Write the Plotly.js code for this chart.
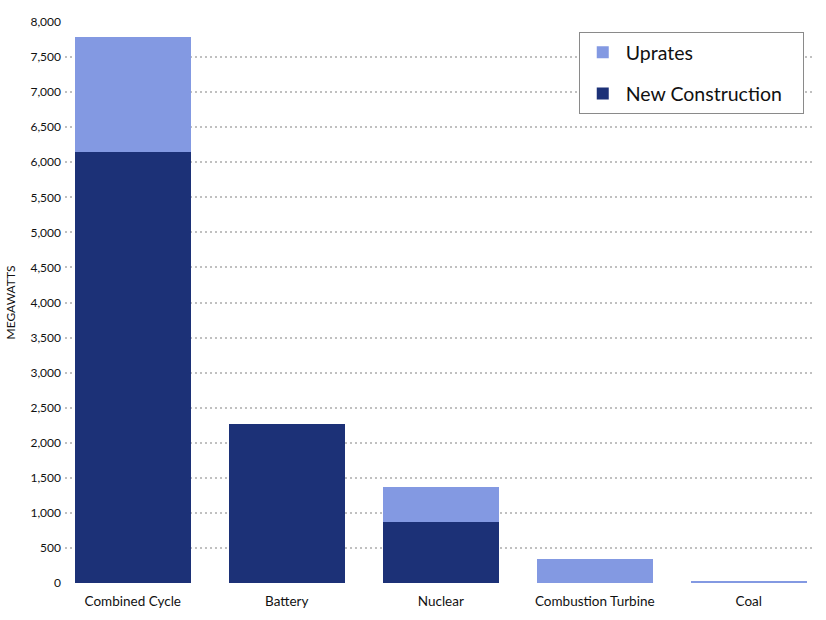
<!DOCTYPE html>
<html>
<head>
<meta charset="utf-8">
<script src="https://cdn.plot.ly/plotly-3.0.1.min.js"></script>
<style>html,body{margin:0;padding:0;background:#fff;}#chart{width:826px;height:620px;}</style>
</head>
<body>
<div id="chart"></div>
<script>
const categories = ["Combined Cycle", "Battery", "Nuclear", "Combustion Turbine", "Coal"];
const newConstruction = [6150, 2270, 870, 0, 0];
const uprates = [1630, 0, 500, 345, 22];
const yTickVals = [0,500,1000,1500,2000,2500,3000,3500,4000,4500,5000,5500,6000,6500,7000,7500,8000];
const seriesNames = ["New Construction", "Uprates"];

const traces = [
  {type:'bar', name:seriesNames[0] + '\u00a0\u00a0\u00a0', legendgroup:'nc', legendrank:2, x:categories, y:newConstruction, marker:{color:'#1C3177'}},
  {type:'bar', name:seriesNames[1], legendgroup:'up', legendrank:1, x:categories, y:uprates, marker:{color:'#8399E2'}}
];
const layout = {
  width:826, height:620,
  margin:{l:65, r:11, t:22, b:37},
  barmode:'stack', bargap:0.25,
  paper_bgcolor:'#fff', plot_bgcolor:'#fff',
  font:{family:'Lato, "Open Sans", sans-serif', color:'#111'},
  xaxis:{type:'category', range:[-0.44, 4.43], showgrid:false, zeroline:false, showline:false, ticks:'',
         ticklabelstandoff:8, tickfont:{size:13.5, color:'#111', family:'Lato, sans-serif'}},
  yaxis:{range:[0,8000], tickvals:yTickVals, tickformat:',', showgrid:true, gridcolor:'#c0c0c0', griddash:'2px,3px', gridwidth:2,
         zeroline:false, showline:false, ticks:'', tickfont:{size:12, color:'#111'}, ticklabelstandoff:3,
         title:{text:'MEGAWATTS', font:{size:12, color:'#111'}, standoff:12}},
  legend:{x:0.685, y:0.982, xanchor:'left', yanchor:'top', bgcolor:'#fff', bordercolor:'#8a8a8a', borderwidth:1,
          font:{size:19.5, color:'#111', family:'Lato, sans-serif'}, traceorder:'grouped', tracegroupgap:13, itemwidth:36},
  showlegend:true
};
Plotly.newPlot('chart', traces, layout, {displayModeBar:false, staticPlot:true});
</script>
</body>
</html>
